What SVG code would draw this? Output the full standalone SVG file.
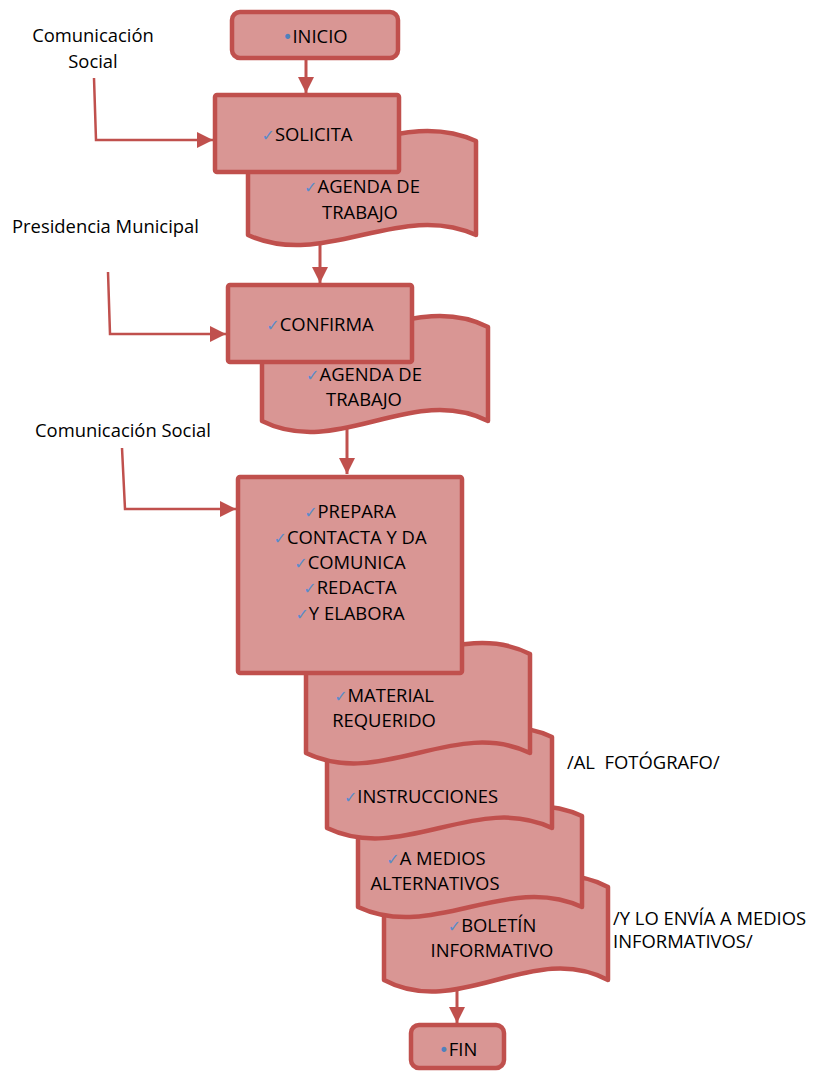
<svg xmlns="http://www.w3.org/2000/svg" width="815" height="1071" viewBox="0 0 815 1071">
  <defs>
    <marker id="arrow" markerUnits="userSpaceOnUse" markerWidth="16" markerHeight="16" refX="16" refY="8" orient="auto">
      <path d="M0,0 L16,8 L0,16 Z" fill="#C0504D"/>
    </marker>
    <style>
      .box { fill: #D99694; stroke: #C0504D; stroke-width: 4.5; stroke-linejoin: round; }
      .doc { fill: #D99694; stroke: #C0504D; stroke-width: 4.5; stroke-linejoin: round; }
      .t { font-family: "Open Sans", "Noto Sans", "Liberation Sans", sans-serif; font-size: 18.4px; fill: #000; }
      .c { text-anchor: middle; }
      .chk { font-family: "DejaVu Sans", sans-serif; font-size: 16px; fill: #5B8BC9; }
      .dot { font-family: "DejaVu Sans", sans-serif; font-size: 17px; fill: #4F81BD; }
      .flow { fill: none; stroke: #C0504D; stroke-width: 3; marker-end: url(#arrow); }
      .side { fill: none; stroke: #C0504D; stroke-width: 2.5; marker-end: url(#arrow); }
    </style>
  </defs>
  <rect width="815" height="1071" fill="#fff"/>

  <!-- side labels -->
  <g id="lbl-comunicacion-1">
    <text class="t c" x="93" y="42">Comunicación</text>
    <text class="t c" x="93" y="68">Social</text>
  </g>
  <g id="lbl-presidencia">
    <text class="t" x="12" y="233">Presidencia Municipal</text>
  </g>
  <g id="lbl-comunicacion-2">
    <text class="t" x="35" y="437">Comunicación Social</text>
  </g>
  <g id="lbl-fotografo">
    <text class="t" x="567" y="769" xml:space="preserve">/AL  FOTÓGRAFO/</text>
  </g>
  <g id="lbl-envia">
    <text class="t" x="613" y="925">/Y LO ENVÍA A MEDIOS</text>
    <text class="t" x="613" y="948">INFORMATIVOS/</text>
  </g>

  <!-- start -->
  <g id="inicio">
    <rect class="box" x="232" y="12" width="166" height="46" rx="8"/>
    <text class="t c" x="315" y="43"><tspan class="dot">•</tspan>INICIO</text>
  </g>

  <!-- request + agenda -->
  <g id="agenda-1">
    <path class="doc" d="M248,141 C324,176 400,106 476,141 L476,235 C400,200 324,270 248,235 Z"/>
    <text class="t c" x="362" y="193"><tspan class="chk">✓</tspan>AGENDA DE</text>
    <text class="t c" x="360" y="219">TRABAJO</text>
  </g>
  <g id="solicita">
    <rect class="box" x="215" y="95" width="184" height="77" rx="2"/>
    <text class="t c" x="307" y="141"><tspan class="chk">✓</tspan>SOLICITA</text>
  </g>

  <!-- confirmation + agenda -->
  <g id="agenda-2">
    <path class="doc" d="M262,327 C337.3,365 412.7,289 488,327 L488,421 C412.7,383 337.3,459 262,421 Z"/>
    <text class="t c" x="364" y="381"><tspan class="chk">✓</tspan>AGENDA DE</text>
    <text class="t c" x="364" y="406">TRABAJO</text>
  </g>
  <g id="confirma">
    <rect class="box" x="228" y="285" width="184" height="77" rx="2"/>
    <text class="t c" x="320" y="331"><tspan class="chk">✓</tspan>CONFIRMA</text>
  </g>

  <!-- output documents, back to front -->
  <g id="boletin">
    <path class="doc" d="M384,887 C458.7,927 533.3,847 608,887 L608,980 C533.3,940 458.7,1020 384,980 Z"/>
    <text class="t c" x="492" y="932"><tspan class="chk">✓</tspan>BOLETÍN</text>
    <text class="t c" x="492" y="957">INFORMATIVO</text>
  </g>
  <g id="medios-alternativos">
    <path class="doc" d="M358,816 C432.7,851 507.3,781 582,816 L582,907 C507.3,872 432.7,942 358,907 Z"/>
    <text class="t c" x="436" y="865"><tspan class="chk">✓</tspan>A MEDIOS</text>
    <text class="t c" x="435" y="890">ALTERNATIVOS</text>
  </g>
  <g id="instrucciones">
    <path class="doc" d="M327,737 C402,773 477,701 552,737 L552,828 C477,792 402,864 327,828 Z"/>
    <text class="t c" x="421" y="803"><tspan class="chk">✓</tspan>INSTRUCCIONES</text>
  </g>
  <g id="material">
    <path class="doc" d="M306,654 C380.7,692 455.3,616 530,654 L530,753 C455.3,717 380.7,789 306,753 Z"/>
    <text class="t c" x="384" y="702"><tspan class="chk">✓</tspan>MATERIAL</text>
    <text class="t c" x="384" y="727">REQUERIDO</text>
  </g>
  <g id="prepara">
    <rect class="box" x="238" y="477" width="224" height="196" rx="2"/>
    <text class="t c" x="350" y="518"><tspan class="chk">✓</tspan>PREPARA</text>
    <text class="t c" x="350" y="544"><tspan class="chk">✓</tspan>CONTACTA Y DA</text>
    <text class="t c" x="350" y="569"><tspan class="chk">✓</tspan>COMUNICA</text>
    <text class="t c" x="350" y="594"><tspan class="chk">✓</tspan>REDACTA</text>
    <text class="t c" x="350" y="620"><tspan class="chk">✓</tspan>Y ELABORA</text>
  </g>

  <!-- end -->
  <g id="fin">
    <rect class="box" x="411" y="1025" width="93" height="43" rx="8"/>
    <text class="t c" x="458" y="1056"><tspan class="dot">•</tspan>FIN</text>
  </g>

  <!-- connectors -->
  <g id="connectors">
    <path class="flow" d="M306,60 L306,93"/>
    <path class="flow" d="M320,243 L320,283"/>
    <path class="flow" d="M347,428 L347,474"/>
    <path class="flow" d="M457,989 L457,1023"/>
    <path class="side" d="M94,78 L96,140 L213,140"/>
    <path class="side" d="M108,272 L110,334 L226,334"/>
    <path class="side" d="M122,448 L125,509 L236,509"/>
  </g>
</svg>
